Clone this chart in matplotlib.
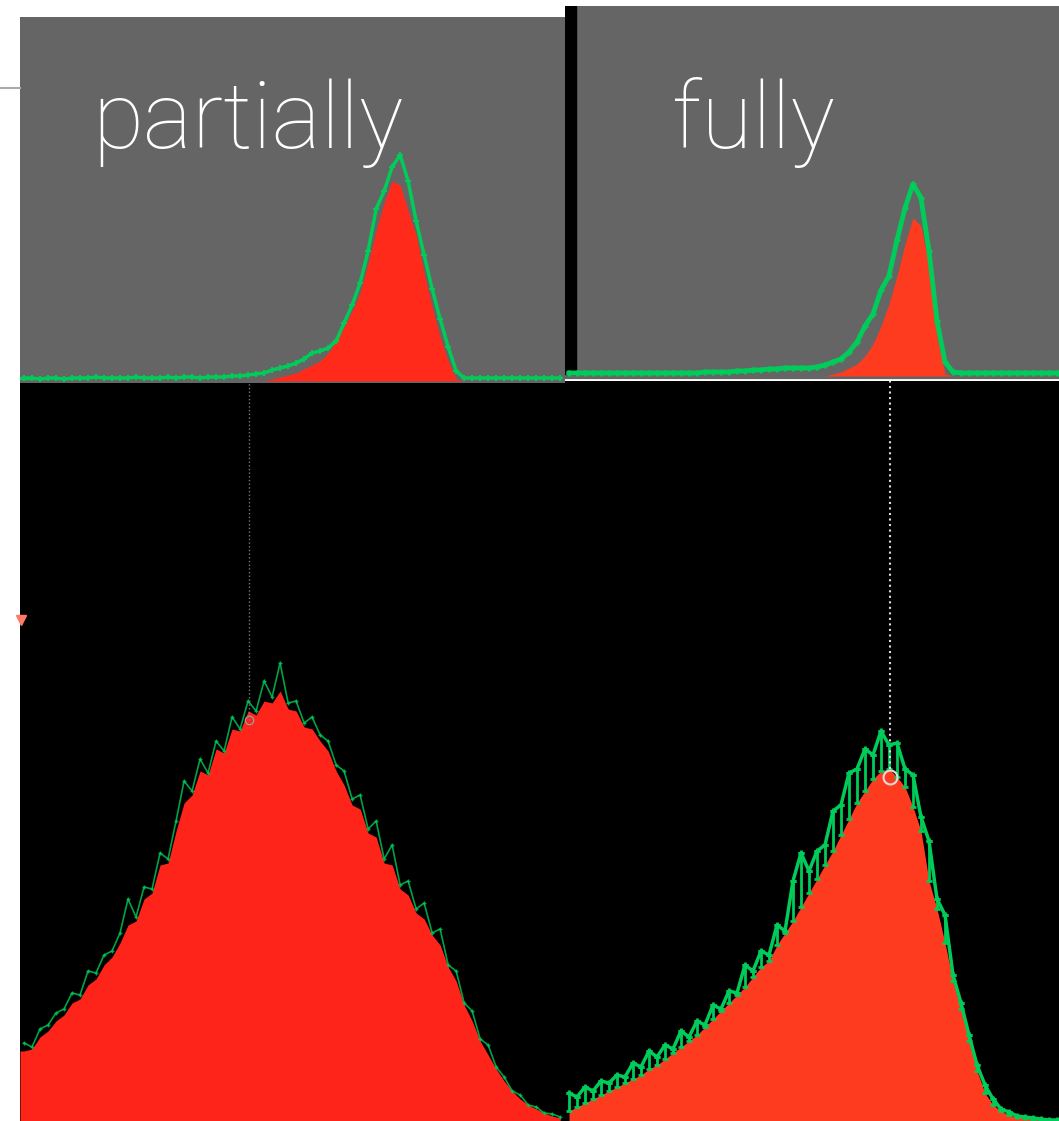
import numpy as np
import matplotlib.pyplot as plt
from matplotlib.lines import Line2D

W, H = 1059, 1121

# counts per bin (left column bins, 68 of them)
partial_top_green = [3, 3, 2, 3, 3, 2, 3, 3, 3, 4,
                     3, 3, 3, 3, 4, 3, 3, 3, 4, 3,
                     4, 4, 3, 4, 4, 4, 5, 5, 6, 7,
                     8, 11, 13, 15, 18, 22, 28, 30, 33, 40,
                     58, 76, 98, 130, 172, 190, 214, 226, 200, 160,
                     126, 92, 62, 34, 10, 3, 3, 3, 3, 3,
                     3, 3, 3, 3, 3, 3, 3, 3]
partial_top_red = [0, 0, 0, 0, 0, 0, 0, 0, 0, 0,
                   0, 0, 0, 0, 0, 0, 0, 0, 0, 0,
                   0, 0, 0, 0, 0, 0, 0, 0, 0, 0,
                   0, 2, 4, 6, 8, 12, 16, 20, 28, 40,
                   54, 70, 88, 118, 150, 178, 200, 196, 170, 146,
                   108, 74, 44, 20, 2, 0, 0, 0, 0, 0,
                   0, 0, 0, 0, 0, 0, 0, 0]
partial_bot_green = [78, 74, 92, 96, 108, 112, 128, 126, 150, 148,
                     166, 170, 188, 222, 204, 234, 232, 268, 262, 300,
                     340, 330, 362, 348, 380, 370, 404, 392, 420, 410,
                     440, 424, 458, 418, 420, 398, 404, 386, 380, 356,
                     350, 322, 326, 292, 300, 262, 276, 236, 240, 212,
                     218, 188, 192, 156, 150, 118, 110, 82, 76, 54,
                     44, 30, 26, 16, 14, 8, 7, 4]
partial_bot_red = [70, 72, 84, 90, 100, 106, 118, 122, 136, 142,
                   156, 164, 178, 196, 200, 222, 228, 256, 258, 290,
                   318, 326, 350, 346, 372, 368, 392, 390, 410, 406,
                   420, 418, 430, 412, 410, 394, 392, 380, 370, 350,
                   336, 316, 312, 288, 284, 258, 256, 232, 226, 208,
                   202, 186, 176, 154, 140, 116, 100, 80, 66, 52,
                   40, 30, 22, 16, 12, 8, 5, 3]

# right column bins, 62 of them
full_top_green = [3, 3, 3, 3, 3, 3, 3, 3, 3, 3,
                  3, 3, 3, 3, 3, 3, 3, 4, 4, 4,
                  4, 5, 5, 6, 6, 7, 7, 8, 8, 8,
                  8, 9, 11, 14, 17, 24, 34, 50, 62, 86,
                  100, 136, 168, 192, 178, 125, 55, 14, 4, 3,
                  3, 3, 3, 3, 3, 3, 3, 3, 3, 3,
                  3, 3]
full_top_red = [0, 0, 0, 0, 0, 0, 0, 0, 0, 0,
                0, 0, 0, 0, 0, 0, 0, 0, 0, 0,
                0, 0, 0, 0, 0, 0, 0, 0, 0, 0,
                0, 0, 0, 2, 4, 8, 12, 20, 32, 50,
                72, 100, 132, 158, 150, 110, 40, 2, 0, 0,
                0, 0, 0, 0, 0, 0, 0, 0, 0, 0,
                0, 0]
full_bot_green = [28, 24, 34, 30, 40, 38, 46, 44, 58, 54,
                  70, 64, 76, 72, 90, 84, 100, 96, 116, 112,
                  130, 128, 156, 150, 170, 166, 196, 190, 240, 268,
                  250, 270, 276, 310, 316, 348, 352, 372, 366, 390,
                  376, 378, 352, 346, 304, 280, 222, 206, 146, 118,
                  86, 56, 36, 22, 12, 9, 5, 4, 3, 2,
                  1, 1]
full_bot_red = [10, 14, 18, 22, 26, 30, 34, 38, 42, 46,
                52, 56, 62, 68, 74, 80, 86, 94, 102, 110,
                118, 126, 134, 144, 154, 160, 176, 188, 200, 214,
                228, 242, 256, 270, 286, 302, 318, 330, 342, 350,
                352, 344, 334, 314, 290, 240, 212, 178, 140, 112,
                80, 50, 28, 16, 10, 6, 4, 3, 2, 1,
                1, 0]

# cursor position (bin) and level on the lower plots
partial_cursor = (28.1, 401)
full_cursor = (40.1, 344)

GREEN = '#00cc5a'
GRAY = '#656565'


def px_axes(fig, x0, y0, x1, y1, bg):
    ax = fig.add_axes([x0 / W, 1 - y1 / H, (x1 - x0) / W, (y1 - y0) / H])
    ax.set_facecolor(bg)
    ax.set_xticks([])
    ax.set_yticks([])
    for s in ax.spines.values():
        s.set_visible(False)
    return ax


fig = plt.figure(figsize=(W / 100, H / 100), dpi=100, facecolor='white')

xl = np.arange(len(partial_top_green))
xr = np.arange(len(full_top_green))

# left column
ax_tl = px_axes(fig, 20, 17, 565, 383, GRAY)
ax_tl.fill_between(xl, partial_top_red, color='#ff2a1a', lw=0)
ax_tl.plot(xl, partial_top_green, color=GREEN, lw=2.5, marker='+', ms=4, mew=1.5)
ax_tl.axhline(partial_top_green[0], xmax=0.02, color=GREEN, lw=2.5)
ax_tl.set_xlim(-0.5, 67.6)
ax_tl.set_ylim(-2, 364)

ax_bl = px_axes(fig, 20, 383, 565, 1121, 'black')
# first bin runs to the left edge of the window
ax_bl.fill_between(np.r_[-0.5, xl], [partial_bot_red[0]] + partial_bot_red,
                   color='#ff2419', lw=0)
ax_bl.plot(xl, partial_bot_green, color=GREEN, lw=1.2, marker='+', ms=3, alpha=0.8)
ax_bl.plot([partial_cursor[0]] * 2, [partial_cursor[1], 738], color='#777777', ls=':', lw=1)
ax_bl.plot(*partial_cursor, 'o', mfc='none', mec='#999999', ms=6)
ax_bl.set_xlim(-0.5, 67.6)
ax_bl.set_ylim(0, 738)

# right column
ax_tr = px_axes(fig, 565, 6, 1059, 381, GRAY)
ax_tr.fill_between(xr, full_top_red, color='#ff3b1f', lw=0)
ax_tr.plot(xr, full_top_green, color=GREEN, lw=3.5, marker='+', ms=5, mew=2)
ax_tr.axhline(-3.5, color='white', lw=2)
ax_tr.axvspan(-0.5, 0.85, ymin=0.02, ymax=1, color='black')
ax_tr.set_xlim(-0.5, 61.25)
ax_tr.set_ylim(-5, 370)

ax_br = px_axes(fig, 565, 381, 1059, 1121, 'black')
ax_br.fill_between(xr, full_bot_red, color='#ff3b1f', lw=0)
g = np.array(full_bot_green)
r = np.array(full_bot_red)
ax_br.errorbar(xr, g, yerr=[np.clip(g - r, 0, None), np.zeros_like(g)], color=GREEN,
               lw=2.5, elinewidth=2, capsize=2, marker='+', ms=5, mew=2)
ax_br.plot([full_cursor[0]] * 2, [full_cursor[1] + 8, 740], color='#dddddd', ls=':', lw=1.5)
ax_br.plot(*full_cursor, 'o', mfc='none', mec='#dddddd', ms=10, mew=1.5)
ax_br.set_xlim(-0.5, 61.25)
ax_br.set_ylim(0, 740)

# labels
fig.text(92 / W, 1 - 148 / H, 'partially', color='white', fontsize=67,
         family='Roboto', fontweight='light', ha='left', va='baseline')
fig.text(672 / W, 1 - 148 / H, 'fully', color='white', fontsize=67,
         family='Roboto', fontweight='light', ha='left', va='baseline')

# bits of the slide behind the screenshots
fig.add_artist(Line2D([0, 20 / W], [1 - 88 / H] * 2, color='#aaaaaa', lw=1.5))
fig.add_artist(Line2D([21 / W], [1 - 620 / H], marker='v', color='#ff7a66', ms=7))

fig.savefig('out.png', dpi=100, facecolor='white')
